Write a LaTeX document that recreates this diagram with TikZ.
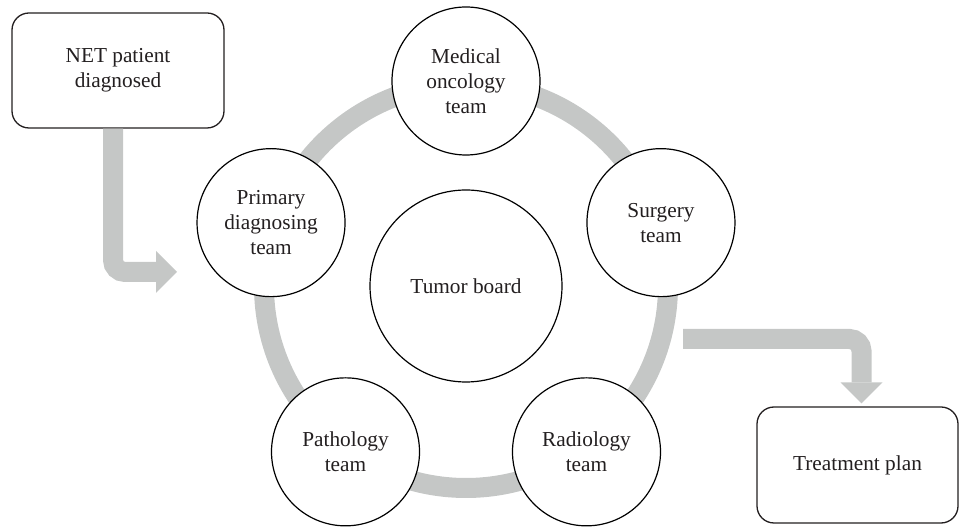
\documentclass[tikz,border=0pt]{standalone}
\usepackage{fontspec}
\setmainfont{Liberation Serif}
\usetikzlibrary{arrows.meta}
\definecolor{ringgray}{RGB}{197,199,198}
\definecolor{inkgray}{RGB}{35,31,32}
\tikzstyle{team} = [circle, draw=black, line width=1.2pt, fill=white, minimum size=148pt, inner sep=0pt, align=center, text=inkgray, font=\fontsize{21.3}{25}\selectfont]
\tikzstyle{board} = [team, minimum size=192pt]
\tikzstyle{terminal} = [rectangle, rounded corners=17pt, draw=inkgray, line width=1.3pt, fill=white, minimum width=212pt, minimum height=115pt, align=center, text=inkgray, font=\fontsize{21.3}{25}\selectfont]
\tikzstyle{ring} = [draw=ringgray, line width=20pt]
\tikzstyle{flow} = [draw=ringgray, line width=20pt, rounded corners=12pt, -{Triangle[width=42pt,length=21pt,line width=0pt]}]

\begin{document}
\begin{tikzpicture}[x=1pt, y=1pt]
    \useasboundingbox (0,0) rectangle (959,527);
    \coordinate (hub) at (466,241);
    \draw [ring] (hub) circle [radius=202pt];
    \node [board] (board) at (hub) {Tumor board};
    \node [team] (med) at ([shift={(90:205)}]hub) {Medical\\oncology\\team};
    \node [team] (surg) at ([shift={(18:205)}]hub) {Surgery\\team};
    \node [team] (radio) at ([shift={(-54:205)}]hub) {Radiology\\team};
    \node [team] (patho) at ([shift={(-126:205)}]hub) {Pathology\\team};
    \node [team] (prim) at ([shift={(162:205)}]hub) {Primary\\diagnosing\\team};
    \node [terminal] (net) at (118,456.5) {NET patient\\diagnosed};
    \node [terminal, minimum width=201pt, minimum height=116pt] (plan) at (857.5,62) {Treatment plan};
    \coordinate (inA) at (177,255);
    \coordinate (outA) at (683,188);
    \draw [flow] ([xshift=-5pt]net.south) |- (inA);
    \draw [flow] (outA) -| ([xshift=4pt,yshift=3pt]plan.north);
\end{tikzpicture}
\end{document}
